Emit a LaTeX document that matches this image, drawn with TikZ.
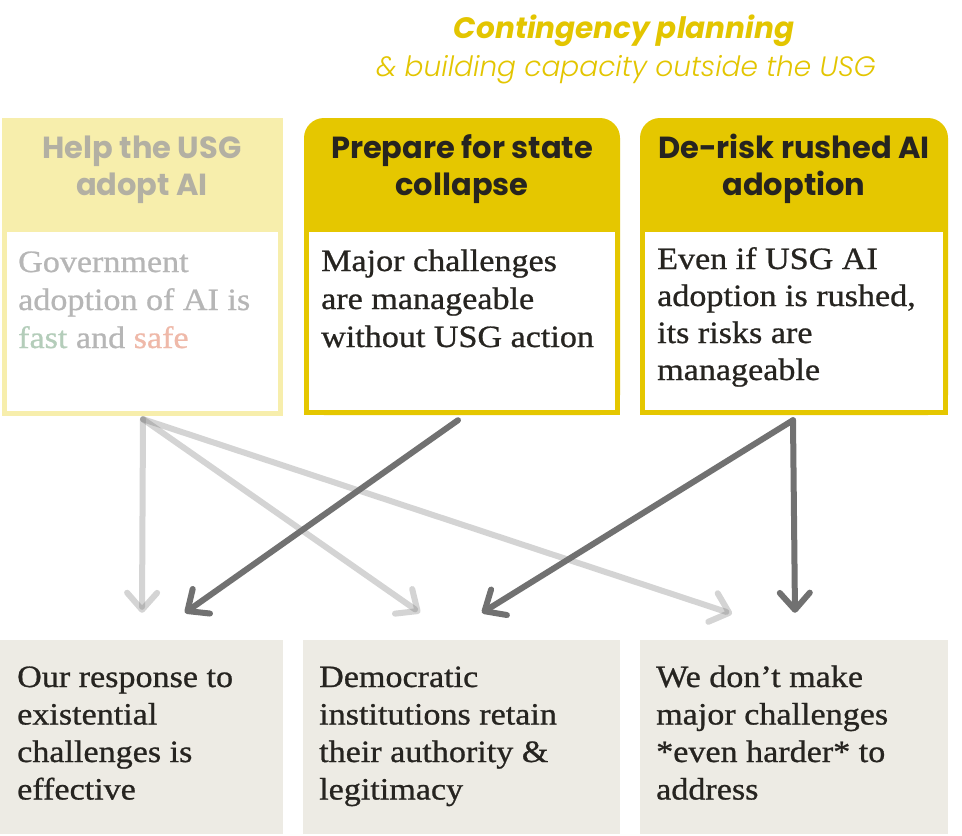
\documentclass[tikz,border=0pt]{standalone}
\usepackage{fontspec}
\setmainfont{Liberation Serif}[FakeStretch=1.1, FakeBold=0.8]
\newfontfamily\pop{Poppins}
\newfontfamily\popL{Poppins}[UprightFont=* Light, ItalicFont=* Light Italic]
\usetikzlibrary{arrows.meta,calc}
\definecolor{yel}{HTML}{E5C700}
\definecolor{titlec}{HTML}{E3C500}
\definecolor{fadeyel}{HTML}{F7EEAC}
\definecolor{fadetxt}{HTML}{B6B6B6}
\definecolor{fadehdr}{HTML}{B3B0A3}
\definecolor{fastc}{HTML}{B4CDBA}
\definecolor{safec}{HTML}{EFB9A9}
\definecolor{ink}{HTML}{262420}
\definecolor{paper}{HTML}{EDEBE4}
\definecolor{arrowc}{HTML}{717171}
\newcommand\stackL[2][38pt]{\vtop{\baselineskip=#1\relax\halign{##\hfil\cr#2\crcr}}}
\newcommand\stackC[2][37pt]{\vtop{\baselineskip=#1\relax\halign{\hfil##\hfil\cr#2\crcr}}}
\tikzset{
  hdrtxt/.style={anchor=base, inner sep=0pt, text=ink, font=\pop\bfseries\fontsize{30.5}{37}\selectfont},
  bodytxt/.style={anchor=base west, inner sep=0pt, text=ink, font=\fontsize{31}{38}\selectfont},
  yelbox/.style={fill=yel, draw=none, rounded corners=20pt, inner sep=0pt, minimum width=316pt, minimum height=297pt},
  fadebox/.style={fill=fadeyel, draw=none, inner sep=0pt, minimum width=281pt, minimum height=298pt},
  outbox/.style={fill=paper, draw=none, inner sep=0pt, minimum height=194pt},
  lightarrow/.style={line width=6pt, draw=arrowc, draw opacity=0.3, line cap=round,
     -{Straight Barb[length=17pt,width=30pt,round]}},
  darkarrow/.style={line width=6pt, draw=arrowc, line cap=round,
     -{Straight Barb[length=17pt,width=30pt,round]}},
}
\begin{document}
\begin{tikzpicture}[x=1pt,y=-1pt]
\useasboundingbox (0,0) rectangle (962,836);
\fill[white] (0,0) rectangle (962,836);
% title
\node[anchor=base, inner sep=0pt, text=titlec, font=\pop\bfseries\itshape\fontsize{29.5}{32}\selectfont] (title1) at (624,38) {Contingency planning};
\node[anchor=base, inner sep=0pt, text=titlec, font=\popL\itshape\fontsize{28}{32}\selectfont] (title2) at (626,76) {\& building capacity outside the USG};
% box 1 (faded)
\node[fadebox] (box1) at (142.5,267) {};
\fill[white] (7,232) rectangle (278,411);
\node[hdrtxt, text=fadehdr] (h1) at (142,158) {\stackC{Help the USG\cr adopt AI}};
\node[bodytxt, text=fadetxt] (b1) at (18,272) {\stackL{Government\cr adoption of AI is\cr {\color{fastc}fast} and {\color{safec}safe}}};
% box 2
\node[yelbox] (box2) at (462,266.5) {};
\fill[yel] (304,250) rectangle (620,415);
\fill[white] (309,232) rectangle (615,410);
\node[hdrtxt] (h2) at (462,158) {\stackC{Prepare for state\cr collapse}};
\node[bodytxt] (b2) at (321,271) {\stackL{Major challenges\cr are manageable\cr without USG action}};
% box 3
\node[yelbox, minimum width=308pt] (box3) at (794,266.5) {};
\fill[yel] (640,250) rectangle (948,415);
\fill[white] (645,232) rectangle (943,410);
\node[hdrtxt] (h3) at (794,158) {\stackC{De-risk rushed AI\cr adoption}};
\node[bodytxt] (b3) at (657,269) {\stackL[37pt]{Even if USG AI\cr adoption is rushed,\cr its risks are\cr manageable}};
% outcome boxes
\node[outbox, minimum width=283pt] (oA) at (141.5,737) {};
\node[outbox, minimum width=317pt] (oB) at (461.5,737) {};
\node[outbox, minimum width=308pt] (oC) at (794,737) {};
\node[bodytxt] (tA) at (17,687) {\stackL[37.5pt]{Our response to\cr existential\cr challenges is\cr effective}};
\node[bodytxt] (tB) at (319,687) {\stackL[37.5pt]{Democratic\cr institutions retain\cr their authority \&\cr legitimacy}};
\node[bodytxt] (tC) at (656,687) {\stackL[37.5pt]{We don’t make\cr major challenges\cr *even harder* to\cr address}};
% arrows
\draw[lightarrow] ($(box1.south)+(0.5,3)$) -- ($(oA.north)+(0.5,-27)$);
\draw[lightarrow] ($(box1.south)+(0.5,3)$) -- ($(oB.north)+(-41.5,-27)$);
\draw[lightarrow] ($(box1.south)+(0.5,3)$) -- ($(oC.north)+(-62,-26)$);
\draw[darkarrow] ($(box2.south)+(-4,5)$) -- ($(oA.north)+(43.5,-27)$);
\draw[darkarrow] ($(box3.south)+(-1,5)$) -- ($(oB.north)+(20.5,-27)$);
\draw[darkarrow] ($(box3.south)+(-1,5)$) -- ($(oC.north)+(1,-27)$);
\end{tikzpicture}
\end{document}
